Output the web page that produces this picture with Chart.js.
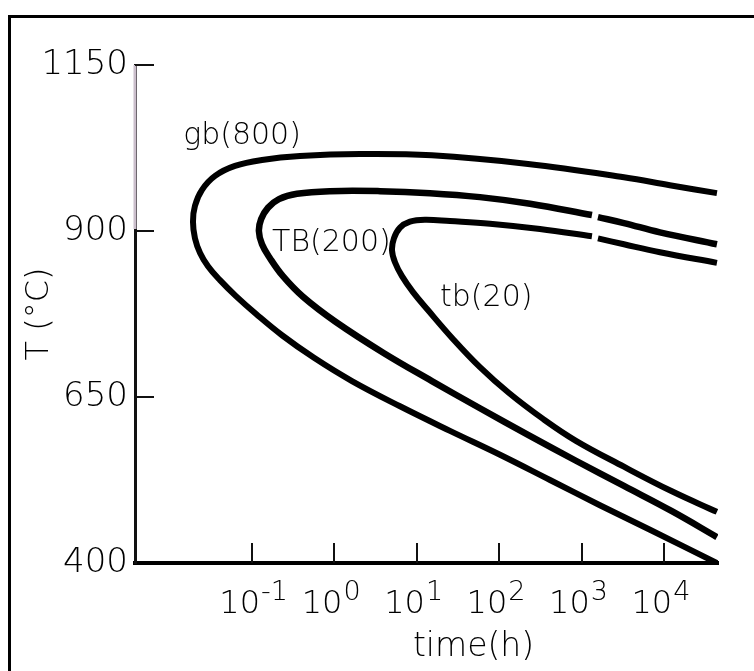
<!DOCTYPE html>
<html><head><meta charset="utf-8">
<script src="https://cdn.jsdelivr.net/npm/chart.js@4.4.1/dist/chart.umd.min.js"></script>
<style>html,body{margin:0;padding:0;background:#fff;} canvas{display:block;}</style>
</head><body>
<canvas id="c" width="754" height="671"></canvas>
<script>
// ---- data ----
const xTickValues = [0.1, 1, 10, 100, 1000, 10000];
const xTickBase = ['10', '10', '10', '10', '10', '10'];
const xTickExp = ['-1', '0', '1', '2', '3', '4'];
const yTickValues = [400, 650, 900, 1150];
const yTickLabels = ['400', '650', '900', '1150'];
const xTitle = 'time(h)';
const yTitle = 'T (°C)';

const seriesNames = ['gb(800)', 'TB(200)', 'tb(20)'];

// time in hours, temperature in °C, traced along each C-curve
const gbTime = [43700, 11700, 3250, 223, 15.2, 2.04, 0.382, 0.132, 0.0621, 0.0356, 0.0247, 0.0203, 0.0192, 0.0203, 0.0234, 0.0292, 0.0408, 0.0638, 0.112, 0.231, 0.565, 1.63, 6.24, 25.2, 102, 412, 1660, 6730, 43700];
const gbTemp = [957, 969, 981, 1001, 1014, 1016, 1013, 1007, 998, 983, 962, 938, 914, 889, 867, 847, 826, 802, 775, 743, 709, 674, 636, 599, 563, 525, 487, 450, 400];

const TBTime = [43700, 8890, 3250, 1574, 1445, 1330, 236, 58.2, 14.4, 3.57, 0.883, 0.351, 0.212, 0.156, 0.129, 0.121, 0.132, 0.165, 0.237, 0.415, 1.04, 3.99, 15.2, 58.2, 223, 851, 3250, 12400, 43700];
const TBTemp = [880, 898, 912, 921, null, 924, 941, 951, 957, 960, 960, 956, 948, 935, 918, 900, 880, 859, 832, 801, 763, 716, 674, 633, 593, 554, 516, 478, 439];

const tbTime = [43700, 8890, 3250, 1574, 1445, 1330, 311, 77.1, 25.2, 12.5, 8.24, 6.24, 5.27, 4.99, 5.42, 6.59, 8.97, 13.6, 26.7, 58.2, 131, 339, 851, 3250, 12400, 43700];
const tbTemp = [852, 868, 880, 889, null, 892, 903, 911, 915, 917, 914, 905, 889, 871, 853, 832, 808, 781, 739, 695, 656, 617, 584, 545, 508, 477];

// curve label anchors (left edge, vertical middle)
const labelTime = [0.0146, 0.175, 19.1];
const labelTemp = [1043, 882, 799];

// ---- chart ----
const FONT = '"DejaVu Sans", sans-serif';
const W = '200';
const TXT = '#000';
const toPts = (t, v) => t.map((x, i) => ({x: x, y: v[i]}));

const decor = {
  id: 'decor',
  beforeDraw(chart) {
    const ctx = chart.ctx;
    ctx.save();
    ctx.fillStyle = '#fff';
    ctx.fillRect(0, 0, chart.width, chart.height);
    ctx.fillStyle = '#000';
    ctx.fillRect(8, 15, 3, chart.height - 15);
    ctx.fillRect(8, 15, chart.width - 8, 3);
    ctx.restore();
  },
  afterDraw(chart) {
    const {ctx, scales: {x, y}} = chart;
    ctx.save();
    // light upper part of the vertical axis
    ctx.strokeStyle = '#cbbfcc';
    ctx.lineWidth = 3;
    ctx.beginPath();
    ctx.moveTo(x.left, y.getPixelForValue(yTickValues[3]));
    ctx.lineTo(x.left, y.getPixelForValue(yTickValues[2]) - 2);
    ctx.stroke();
    // inward ticks
    ctx.strokeStyle = '#111';
    ctx.lineWidth = 2;
    yTickValues.forEach(v => {
      if (v === y.min) return;
      const py = Math.round(y.getPixelForValue(v));
      ctx.beginPath(); ctx.moveTo(x.left, py); ctx.lineTo(x.left + 19, py); ctx.stroke();
    });
    xTickValues.forEach(v => {
      const px = Math.round(x.getPixelForValue(v));
      ctx.beginPath(); ctx.moveTo(px, y.bottom); ctx.lineTo(px, y.bottom - 20); ctx.stroke();
    });
    // x tick labels 10^n
    ctx.fillStyle = TXT;
    ctx.textBaseline = 'alphabetic';
    xTickValues.forEach((v, i) => {
      const px = x.getPixelForValue(v);
      ctx.font = `${W} 32px ${FONT}`;
      ctx.textAlign = 'right';
      ctx.fillText(xTickBase[i], px + 8, y.bottom + 50);
      ctx.font = `${W} 27px ${FONT}`;
      ctx.textAlign = 'left';
      ctx.fillText(xTickExp[i], px + 9, y.bottom + 37);
    });
    // x title
    ctx.font = `${W} 33px ${FONT}`;
    ctx.textAlign = 'center';
    ctx.textBaseline = 'middle';
    ctx.fillText(xTitle, (x.left + x.right) / 2 + 47, y.bottom + 84);
    // curve labels
    ctx.font = `${W} 30px ${FONT}`;
    ctx.textAlign = 'left';
    seriesNames.forEach((n, i) => {
      ctx.fillText(n, x.getPixelForValue(labelTime[i]), y.getPixelForValue(labelTemp[i]));
    });
    ctx.restore();
  }
};

const lineDs = (name, t, v, w) => ({
  label: name,
  data: toPts(t, v),
  showLine: true,
  borderColor: '#000',
  backgroundColor: '#000',
  borderWidth: w,
  pointRadius: 0,
  tension: 0.4,
  spanGaps: false,
  fill: false,
  borderJoinStyle: 'round'
});

new Chart(document.getElementById('c'), {
  type: 'scatter',
  data: {
    datasets: [
      lineDs(seriesNames[0], gbTime, gbTemp, 6),
      lineDs(seriesNames[1], TBTime, TBTemp, 6.5),
      lineDs(seriesNames[2], tbTime, tbTemp, 6)
    ]
  },
  options: {
    responsive: false,
    animation: false,
    events: [],
    layout: {padding: {left: 0, right: 36, top: 65, bottom: 0}},
    plugins: {legend: {display: false}, tooltip: {enabled: false}},
    scales: {
      x: {
        type: 'logarithmic',
        position: 'bottom',
        min: 0.0038,
        max: 45000,
        grid: {display: false, drawTicks: false},
        border: {display: true, color: '#000', width: 4},
        ticks: {display: false},
        afterFit: s => { s.height = 108; }
      },
      y: {
        type: 'linear',
        min: 400,
        max: 1150,
        grid: {display: false, drawTicks: false},
        border: {display: true, color: '#111', width: 3},
        afterBuildTicks: s => { s.ticks = yTickValues.map(v => ({value: v})); },
        ticks: {
          color: TXT,
          padding: 7,
          font: {family: FONT, size: 34, weight: W},
          callback: v => yTickLabels[yTickValues.indexOf(v)]
        },
        title: {
          display: true,
          text: yTitle,
          color: TXT,
          font: {family: FONT, size: 32, weight: W},
          padding: {top: 20, bottom: 0}
        },
        afterFit: s => { s.width = 135; }
      }
    }
  },
  plugins: [decor]
});
</script>
</body></html>
